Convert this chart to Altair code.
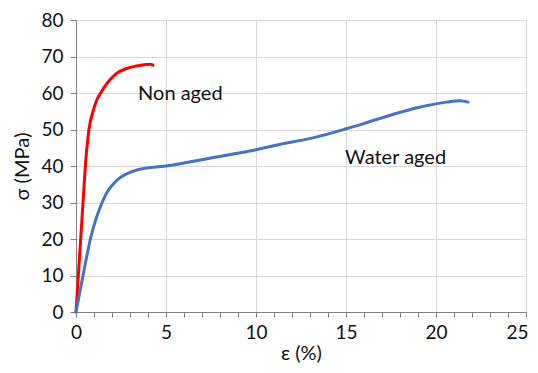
import altair as alt
import pandas as pd

# Non aged (red)
red_x = [0, 0.13, 0.26, 0.39, 0.52, 0.72, 0.95, 1.15, 1.37, 1.78, 2.24, 2.8, 3.35, 3.9, 4.15, 4.28]
red_y = [0, 10, 20, 30, 40, 50, 55, 58, 60, 63, 65.3, 66.7, 67.4, 67.8, 67.9, 67.6]

# Water aged (blue)
blue_x = [0, 0.39, 0.8, 1.45, 1.75, 2.06, 2.4, 2.8, 3.54, 5.0, 7.5, 9.65, 11.31, 13.17, 15.02, 16.87, 18.72, 20.58, 21.32, 21.78]
blue_y = [0, 10, 20, 30, 33, 35, 36.6, 37.8, 39.1, 40, 42.2, 44.1, 45.9, 47.7, 50.2, 53.0, 55.7, 57.5, 57.9, 57.5]

label_text = ["Non aged", "Water aged"]
label_x = [3.45, 14.95]
label_y = [59.6, 42.2]

x_ticks = list(range(0, 26))
y_ticks = list(range(0, 81, 10))

df = pd.concat([
    pd.DataFrame({"x": red_x, "y": red_y, "s": "Non aged", "i": range(len(red_x))}),
    pd.DataFrame({"x": blue_x, "y": blue_y, "s": "Water aged", "i": range(len(blue_x))}),
])
labels = pd.DataFrame({"t": label_text, "x": label_x, "y": label_y})

FONT = "Lato"
TXT = "#111111"

xscale = alt.Scale(domain=[0, 25], nice=False)
yscale = alt.Scale(domain=[0, 80], nice=False)

xaxis = alt.Axis(
    values=x_ticks,
    labelExpr="datum.value % 5 === 0 ? datum.label : ''",
    labelOverlap=False,
    labelBound=False,
    labelFlush=False,
    labelOffset={"condition": {"test": "datum.value === 25", "value": -9}, "value": 0},
    title="ε (%)",
    grid=True,
    gridOpacity={"condition": {"test": "datum.value % 5 === 0", "value": 1}, "value": 0},
    gridColor="#d9d9d9",
    domainColor="#808080",
    tickColor="#808080",
    tickSize=5,
    labelFont=FONT, labelFontSize=19, labelColor=TXT, labelPadding=6,
    titleFont=FONT, titleFontSize=20, titleFontWeight="normal", titleColor=TXT, titlePadding=1,
)
yaxis = alt.Axis(
    values=y_ticks,
    labelOverlap=False,
    labelBound=False,
    labelFlush=False,
    title="σ (MPa)",
    grid=True,
    gridColor="#d9d9d9",
    domainColor="#808080",
    tickColor="#808080",
    tickSize=6,
    labelFont=FONT, labelFontSize=19, labelColor=TXT, labelPadding=7,
    titleFont=FONT, titleFontSize=20, titleFontWeight="normal", titleColor=TXT, titlePadding=8,
)

lines = alt.Chart(df).mark_line(strokeWidth=3, interpolate="monotone", strokeCap="round").encode(
    x=alt.X("x:Q", scale=xscale, axis=xaxis),
    y=alt.Y("y:Q", scale=yscale, axis=yaxis),
    color=alt.Color("s:N", scale=alt.Scale(domain=["Non aged", "Water aged"], range=["#ff0000", "#4472c4"]), legend=None),
    order="i:Q",
)

text = alt.Chart(labels).mark_text(align="left", baseline="middle", font=FONT, fontSize=20, color=TXT).encode(
    x=alt.X("x:Q", scale=xscale, axis=xaxis),
    y=alt.Y("y:Q", scale=yscale, axis=yaxis),
    text="t:N",
)

chart = (lines + text).properties(
    width=450, height=292,
    autosize=alt.AutoSizeParams(type="none"),
    padding={"left": 68, "top": 12, "right": 4, "bottom": 53},
).configure_view(stroke="#808080", strokeWidth=1).configure(background="white")

chart.save("out.html", embed_options={"renderer": "svg", "actions": False})
